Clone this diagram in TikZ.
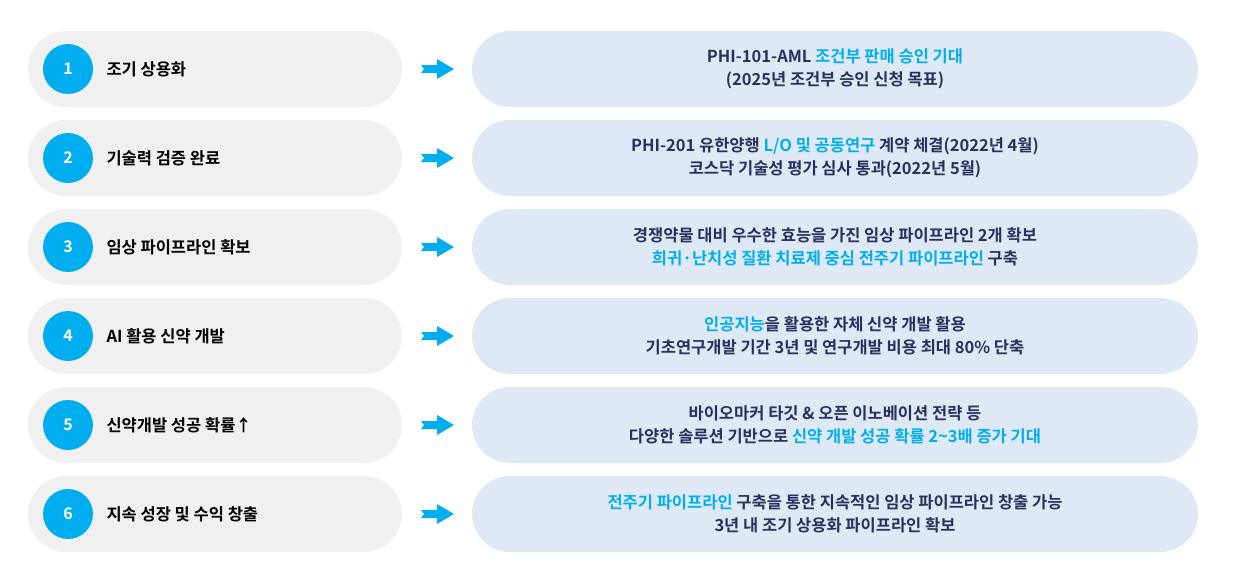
\documentclass[tikz,border=0pt]{standalone}
\usepackage{fontspec}
\setmainfont{Noto Sans CJK KR}[BoldFont={* Bold}]
\usetikzlibrary{positioning}
\definecolor{stepblue}{RGB}{0,174,239}
\definecolor{navy}{RGB}{43,47,94}
\definecolor{pillgray}{RGB}{240,240,240}
\definecolor{pillblue}{RGB}{222,233,245}
\newcommand{\hl}[1]{\textcolor{stepblue}{#1}}

\begin{document}
\begin{tikzpicture}[x=1pt, y=-1pt,
    left pill/.style={fill=pillgray, rounded corners=38pt, minimum width=374pt, minimum height=76pt},
    right pill/.style={fill=pillblue, rounded corners=38pt, minimum width=726pt, minimum height=76pt},
    num dot/.style={circle, fill=stepblue, minimum size=50pt, inner sep=0pt, font=\bfseries\fontsize{16}{16}\selectfont\color{white}},
    step label/.style={anchor=west, font=\bfseries\fontsize{16.5}{16.5}\selectfont, text=black},
    detail/.style={align=center, font=\bfseries\fontsize{16.5}{23}\selectfont, text=navy}
  ]
  \useasboundingbox (0,0) rectangle (1240,570);

  \foreach \n/\lab/\txt in {
      1/{조기 상용화}/{PHI-101-AML \hl{조건부 판매 승인 기대}\\(2025년 조건부 승인 신청 목표)},
      2/{기술력 검증 완료}/{PHI-201 유한양행 \hl{L/O 및 공동연구} 계약 체결(2022년 4월)\\코스닥 기술성 평가 심사 통과(2022년 5월)},
      3/{임상 파이프라인 확보}/{경쟁약물 대비 우수한 효능을 가진 임상 파이프라인 2개 확보\\\hl{희귀·난치성 질환 치료제 중심 전주기 파이프라인} 구축},
      4/{AI 활용 신약 개발}/{\hl{인공지능}을 활용한 자체 신약 개발 활용\\기초연구개발 기간 3년 및 연구개발 비용 최대 80\% 단축},
      5/{신약개발 성공 확률↑}/{바이오마커 타깃 \& 오픈 이노베이션 전략 등\\다양한 솔루션 기반으로 \hl{신약 개발 성공 확률 2\textasciitilde3배 증가 기대}},
      6/{지속 성장 및 수익 창출}/{\hl{전주기 파이프라인} 구축을 통한 지속적인 임상 파이프라인 창출 가능\\3년 내 조기 상용화 파이프라인 확보}} {
    \pgfmathsetmacro{\yc}{69+89*(\n-1)}
    \node [left pill] (row\n) at (215,\yc) {};
    \node [num dot] (dot\n) at (68,\yc) {\n};
    \node [step label] (lab\n) at (103,\yc) {\lab};
    \node [right pill] (res\n) at (835,\yc) {};
    \node [detail] (txt\n) at (res\n.center) {\txt};
    % notched arrow between the pills
    \fill [stepblue] (421,\yc-4) -- (437,\yc-4) -- (437,\yc-10) -- (454,\yc) -- (437,\yc+10) -- (437,\yc+4) -- (421,\yc+4) -- (424,\yc) -- cycle;
  }
\end{tikzpicture}
\end{document}
